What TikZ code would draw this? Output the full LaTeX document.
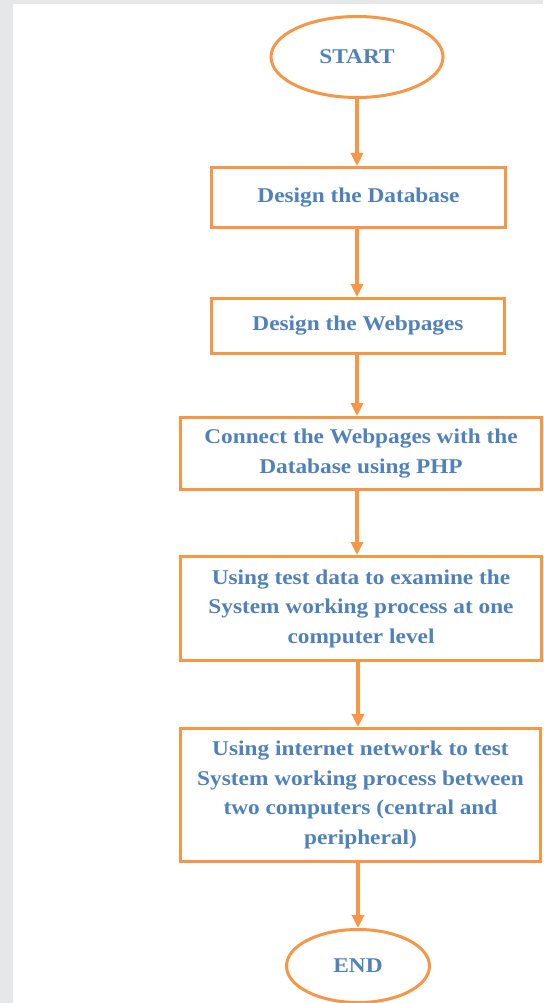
\documentclass[tikz,border=0pt]{standalone}
\usepackage{fontspec}
\setmainfont[FakeStretch=1.11]{Liberation Serif}
\usepackage{xcolor}
\usetikzlibrary{arrows.meta,shapes.geometric}
\definecolor{flow-orange}{HTML}{F79646}
\definecolor{flow-blue}{HTML}{4F81BD}
\definecolor{page-gray}{HTML}{E6E7E9}
\tikzset{
    flow-box/.style = {draw=flow-orange, fill=white, line width=3pt, rectangle, align=center, inner sep=0pt, text=flow-blue, font=\bfseries\fontsize{21}{29.5}\selectfont},
    flow-term/.style = {draw=flow-orange, fill=white, line width=3pt, ellipse, inner sep=0pt, text=flow-blue, font=\bfseries\fontsize{21}{29.5}\selectfont},
    flow-arrow/.style = {draw=flow-orange, line width=4.5pt, -{Triangle[width=12pt,length=13pt]}},
}

\begin{document}
\begin{tikzpicture}[x=1pt, y=-1pt]
\useasboundingbox (0,0) rectangle (543,1003);
\fill[page-gray] (0,0) rectangle (543,1003);
\fill[white] (13,4) rectangle (543,1003);

\node [flow-term, minimum width=172pt, minimum height=81pt] (start) at (357,57) {START};
\node [flow-box, minimum width=294pt, minimum height=60pt] (db) at (358.5,197.5) {Design the Database};
\node [flow-box, minimum width=293pt, minimum height=55pt] (web) at (358,326) {Design the Webpages};
\node [flow-box, minimum width=361pt, minimum height=72pt] (conn) at (361,453.5) {Connect the Webpages with the\\Database using PHP};
\node [flow-box, minimum width=361pt, minimum height=104pt] (test) at (361,608.5) {Using test data to examine the\\System working process at one\\computer level};
\node [flow-box, minimum width=360pt, minimum height=133pt] (net) at (360.5,795) {Using internet network to test\\System working process between\\two computers (central and\\peripheral)};
\node [flow-term, minimum width=143pt, minimum height=73pt] (end) at (358,966) {END};

\draw[flow-arrow] (start.south) -- (start.south |- db.north);
\draw[flow-arrow] (db.south -| start) -- (web.north -| start);
\draw[flow-arrow] (web.south -| start) -- (conn.north -| start);
\draw[flow-arrow] (conn.south -| start) -- (test.north -| start);
\draw[flow-arrow] (test.south -| end) -- (net.north -| end);
\draw[flow-arrow] (net.south -| end) -- (end.north);
\end{tikzpicture}
\end{document}
